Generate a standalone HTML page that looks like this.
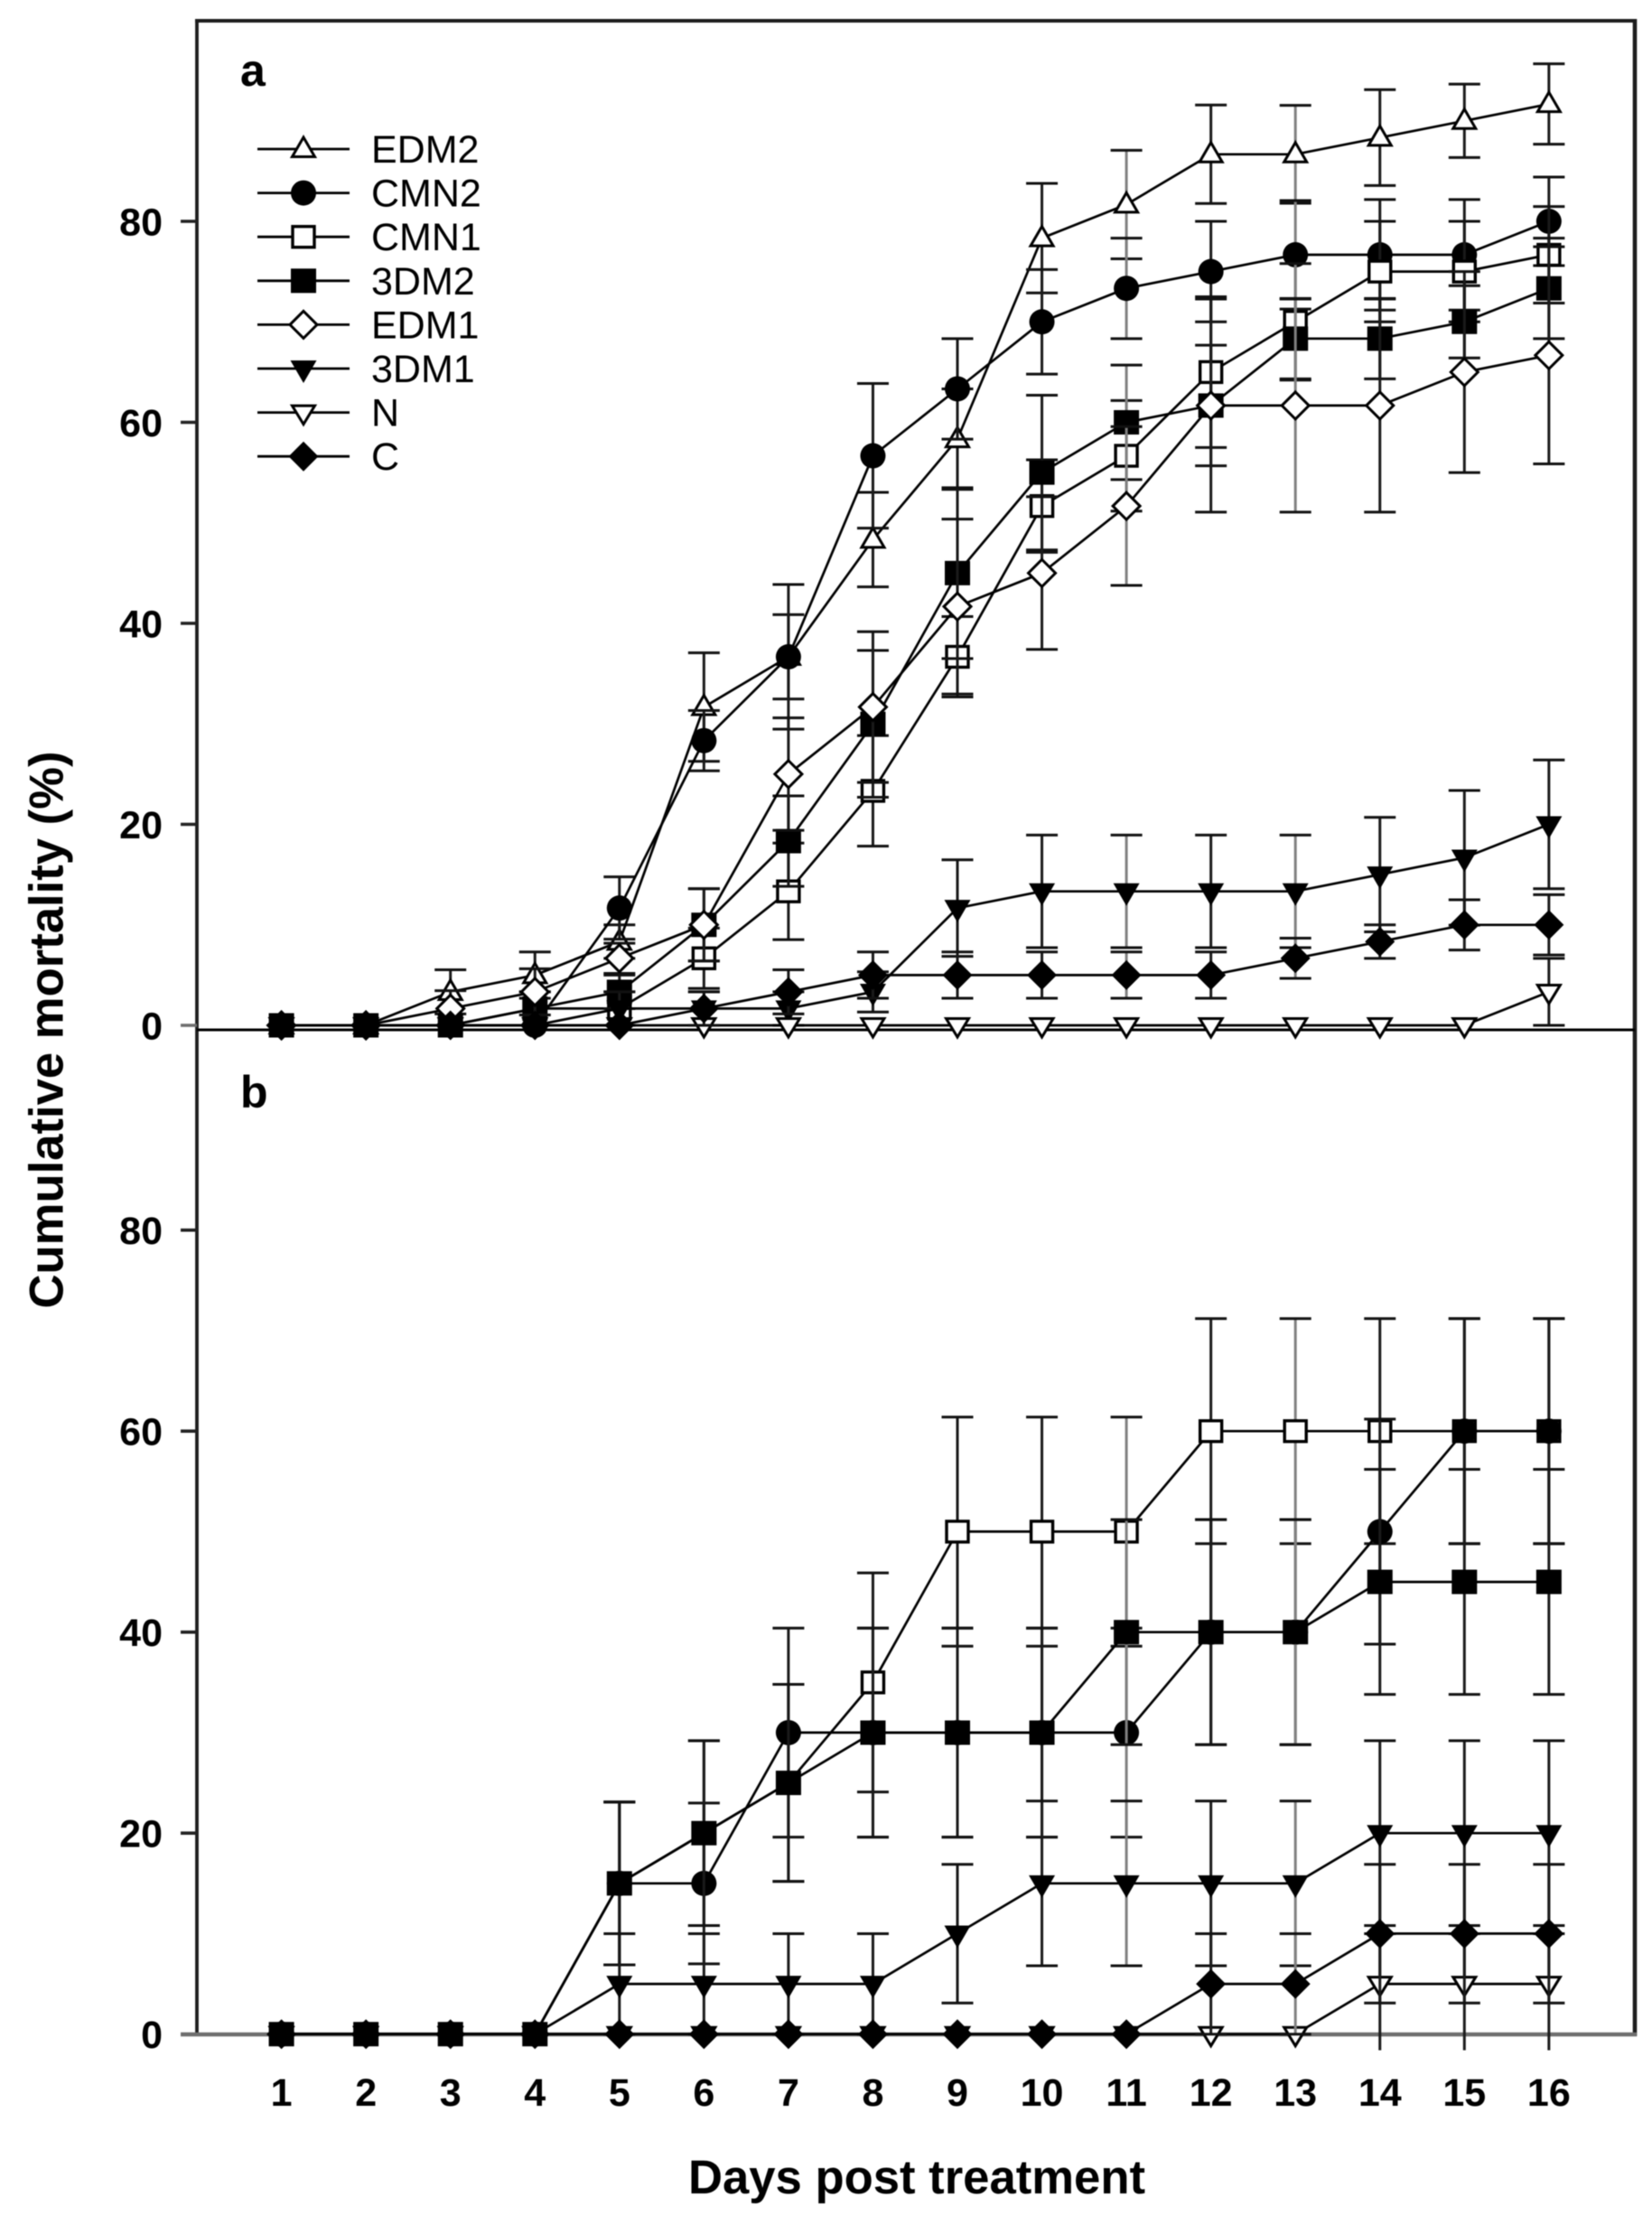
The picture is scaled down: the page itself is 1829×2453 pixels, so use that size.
<!DOCTYPE html>
<html lang="en">
<head>
<meta charset="utf-8">
<title>Cumulative mortality chart</title>
<style>
html,body{margin:0;padding:0;background:#fff;}
body{width:1829px;height:2453px;overflow:hidden;}
svg{display:block;filter:blur(0.55px);}
text{font-family:"Liberation Sans",sans-serif;fill:#000;}
.b{font-weight:bold;}
</style>
</head>
<body>
<svg id="chart" xmlns="http://www.w3.org/2000/svg" width="1829" height="2453" viewBox="0 0 1829 2453">
  <rect x="0" y="0" width="1829" height="2453" fill="#fff"/>
  <text class="b" font-size="52.6" textLength="617" lengthAdjust="spacingAndGlyphs" text-anchor="middle" transform="translate(69.5,1140) rotate(-90)">Cumulative mortality (%)</text>
  <text class="b" font-size="52.6" textLength="506" lengthAdjust="spacingAndGlyphs" x="762" y="2428">Days post treatment</text>
  <text class="b" font-size="50" x="266" y="95">a</text>
  <text class="b" font-size="50" x="266" y="1226">b</text>
</svg>
<script>
const days = [1,2,3,4,5,6,7,8,9,10,11,12,13,14,15,16];
const yTickValues = [0,20,40,60,80];

const edm2A    = [0,0,3.33,5,8.33,31.67,36.67,48.33,58.33,78.33,81.67,86.67,86.67,88.33,90,91.67];
const edm2AErr = [0,0,2.2,2.3,1.67,5.4,4.2,4.7,5,5.45,5.4,4.9,4.87,4.77,3.65,4];
const cmn2A    = [0,0,0,0,11.67,28.33,36.67,56.67,63.33,70,73.33,75,76.67,76.67,76.67,80];
const cmn2AErr = [0,0,0,0,3.1,3,7.2,7.2,5,5.2,5,5,5.4,5.5,5.5,4.4];
const cmn1A    = [0,0,0,1.67,1.67,6.67,13.33,23.33,36.67,51.67,56.67,65,70,75,75,76.67];
const cmn1AErr = [0,0,0,1.67,1.67,3,4.8,5.5,4,4.6,5.5,7.5,5.8,5,5,4.8];
const dm32A    = [0,0,0,1.67,3.33,10,18.33,30,45,55,60,61.67,68.33,68.33,70,73.33];
const dm32AErr = [0,0,0,1.67,1.67,3.6,4.5,7.3,8.5,7.7,5.7,6,4,4,3.6,5];
const edm1A    = [0,0,1.67,3.33,6.67,10,25,31.67,41.67,45,51.67,61.67,61.67,61.67,65,66.67];
const edm1AErr = [0,0,1.78,2.3,1.5,3.6,5.6,7.5,8.7,7.6,7.9,10.6,10.6,10.6,10,10.8];
const dm31A    = [0,0,0,0,1.67,1.67,1.67,3.33,11.67,13.33,13.33,13.33,13.33,15,16.67,20];
const dm31AErr = [0,0,0,0,1.67,1.67,1.67,2,4.8,5.6,5.6,5.6,5.6,5.7,6.7,6.4];
const nA       = [0,0,0,0,0,0,0,0,0,0,0,0,0,0,0,3.33];
const nAErr    = [0,0,0,0,0,0,0,0,0,0,0,0,0,0,0,3.33];
const cA       = [0,0,0,0,0,1.67,3.33,5,5,5,5,5,6.67,8.33,10,10];
const cAErr    = [0,0,0,0,0,1.67,2.2,2.3,2.3,2.3,2.3,2.3,2,1.67,2.5,3];

const cmn1B    = [0,0,0,0,15,20,25,35,50,50,50,60,60,60,60,60];
const cmn1BErr = [0,0,0,0,8.1,9.2,9.8,10.9,11.4,11.4,11.4,11.2,11.2,11.2,11.2,11.2];
const cmn2B    = [0,0,0,0,15,15,30,30,30,30,30,40,40,50,60,60];
const cmn2BErr = [0,0,0,0,8.1,8,10.4,10.4,10.4,10.4,10.4,11.2,11.2,11.2,11.2,11.2];
const dm32B    = [0,0,0,0,15,20,25,30,30,30,40,40,40,45,45,45];
const dm32BErr = [0,0,0,0,8.1,9.2,9.8,10.4,10.4,10.4,11.2,11.2,11.2,11.2,11.2,11.2];
const dm31B    = [0,0,0,0,5,5,5,5,10,15,15,15,15,20,20,20];
const dm31BErr = [0,0,0,0,5,5,5,5,6.9,8.2,8.2,8.2,8.2,9.2,9.2,9.2];
const nB       = [0,0,0,0,0,0,0,0,0,0,0,0,0,5,5,5];
const nBErr    = [0,0,0,0,0,0,0,0,0,0,0,0,0,5,5,5];
const nBErrLow = [0,0,0,0,0,0,0,0,0,0,0,0,0,6.6,6.6,6.6];
const cB       = [0,0,0,0,0,0,0,0,0,0,0,5,5,10,10,10];
const cBErr    = [0,0,0,0,0,0,0,0,0,0,0,5,5,6.9,6.9,6.9];

const legendNames = ["EDM2","CMN2","CMN1","3DM2","EDM1","3DM1","N","C"];
const legendKinds = ["triUpOpen","circle","squareOpen","square","diamondOpen","triDown","triDownOpen","diamond"];

const NS = "http://www.w3.org/2000/svg";
const svg = document.getElementById("chart");

const xOf = d => 311.6 + 93.55 * (d - 1);
const yOfA = v => 1135 - 11.125 * v;
const yOfB = v => 2251.7 - 11.125 * v;

function make(tag, attrs, parent) {
  const el = document.createElementNS(NS, tag);
  for (const k in attrs) el.setAttribute(k, attrs[k]);
  (parent || svg).appendChild(el);
  return el;
}

function drawMarker(kind, x, y, parent) {
  let el;
  if (kind === "circle") {
    el = make("circle", {cx:x, cy:y, r:14, fill:"#000"}, parent);
  } else if (kind === "square") {
    el = make("rect", {x:x-14, y:y-13.5, width:28, height:27, fill:"#000"}, parent);
  } else if (kind === "squareOpen") {
    el = make("rect", {x:x-12, y:y-11.5, width:24, height:23, fill:"#fff", stroke:"#000", "stroke-width":3.4}, parent);
  } else if (kind === "diamond") {
    el = make("path", {d:`M${x} ${y-16.5}L${x+16.5} ${y}L${x} ${y+16.5}L${x-16.5} ${y}Z`, fill:"#000"}, parent);
  } else if (kind === "diamondOpen") {
    el = make("path", {d:`M${x} ${y-15}L${x+15} ${y}L${x} ${y+15}L${x-15} ${y}Z`, fill:"#fff", stroke:"#000", "stroke-width":3}, parent);
  } else if (kind === "triDown") {
    el = make("path", {d:`M${x-14.5} ${y-9}L${x+14.5} ${y-9}L${x} ${y+16}Z`, fill:"#000"}, parent);
  } else if (kind === "triDownOpen") {
    el = make("path", {d:`M${x-12.5} ${y-7.5}L${x+12.5} ${y-7.5}L${x} ${y+13}Z`, fill:"#fff", stroke:"#000", "stroke-width":3}, parent);
  } else {
    el = make("path", {d:`M${x} ${y-13}L${x+12.5} ${y+8.5}L${x-12.5} ${y+8.5}Z`, fill:"#fff", stroke:"#000", "stroke-width":3}, parent);
  }
  
  
  return el;
}

function drawSeries(name, kind, values, errs, errsLow, yOf, softDays) {
  const g = make("g", {});
  
  
  days.forEach((d, i) => {
    const up = errs[i];
    const low = errsLow ? errsLow[i] : errs[i];
    if (up <= 0 && low <= 0) return;
    const x = xOf(d);
    const tone = softDays.includes(d) ? "#808080" : "#1a1a1a";
    const stem = make("line", {x1:x, x2:x, y1:yOf(values[i]+up), y2:yOf(values[i]-low), stroke:tone, "stroke-width":3}, g);
    
    
    const topCap = make("line", {x1:x-17.5, x2:x+17.5, y1:yOf(values[i]+up), y2:yOf(values[i]+up), stroke:"#111", "stroke-width":3}, g);
    
    
    if (values[i]-low >= 0) {
      const lowCap = make("line", {x1:x-17.5, x2:x+17.5, y1:yOf(values[i]-low), y2:yOf(values[i]-low), stroke:"#111", "stroke-width":3}, g);
      
      
    }
  });
  const pts = days.map((d, i) => xOf(d).toFixed(1) + "," + yOf(values[i]).toFixed(1)).join(" ");
  const line = make("polyline", {points:pts, fill:"none", stroke:"#000", "stroke-width":2.7}, g);
  
  
  days.forEach((d, i) => drawMarker(kind, xOf(d), yOf(values[i]), g));
}

/* frame and axes */
const frame = make("g", {});


make("line", {x1:216, x2:1812, y1:23, y2:23, stroke:"#1c1c1c", "stroke-width":4}, frame);
make("line", {x1:218, x2:218, y1:21, y2:2252, stroke:"#1c1c1c", "stroke-width":3.8}, frame);
make("line", {x1:1810, x2:1810, y1:21, y2:2254, stroke:"#1c1c1c", "stroke-width":4.6}, frame);
make("line", {x1:218, x2:1810, y1:1140, y2:1140, stroke:"#000", "stroke-width":3}, frame);
make("line", {x1:200, x2:1812, y1:2252, y2:2252, stroke:"#6e6e6e", "stroke-width":4.6}, frame);

/* y ticks for both panels */
[yOfA, yOfB].forEach((yOf, p) => {
  yTickValues.forEach(v => {
    const tick = make("line", {x1:200, x2:218, y1:yOf(v), y2:yOf(v), stroke: v === 0 ? "#6e6e6e" : "#222", "stroke-width":3.6});
    
    
    const label = make("text", {x:180, y:yOf(v)+15.5, "text-anchor":"end", "font-size":43, "class":"b"});
    label.textContent = v;
    
    
  });
});

/* x tick labels */
days.forEach(d => {
  const label = make("text", {x:xOf(d), y:2331, "text-anchor":"middle", "font-size":43, "class":"b"});
  label.textContent = d;
  
  
});

/* panel a series */
const softA = [11,13];
drawSeries("series-a-edm2","triUpOpen",edm2A,edm2AErr,null,yOfA,softA);
drawSeries("series-a-cmn2","circle",cmn2A,cmn2AErr,null,yOfA,softA);
drawSeries("series-a-cmn1","squareOpen",cmn1A,cmn1AErr,null,yOfA,softA);
drawSeries("series-a-3dm2","square",dm32A,dm32AErr,null,yOfA,softA);
drawSeries("series-a-edm1","diamondOpen",edm1A,edm1AErr,null,yOfA,softA);
drawSeries("series-a-3dm1","triDown",dm31A,dm31AErr,null,yOfA,softA);
drawSeries("series-a-n","triDownOpen",nA,nAErr,null,yOfA,softA);
drawSeries("series-a-c","diamond",cA,cAErr,null,yOfA,softA);

/* panel b series */
const softB = [11,13];
drawSeries("series-b-cmn1","squareOpen",cmn1B,cmn1BErr,null,yOfB,softB);
drawSeries("series-b-cmn2","circle",cmn2B,cmn2BErr,null,yOfB,softB);
drawSeries("series-b-3dm2","square",dm32B,dm32BErr,null,yOfB,softB);
drawSeries("series-b-3dm1","triDown",dm31B,dm31BErr,null,yOfB,softB);
drawSeries("series-b-n","triDownOpen",nB,nBErr,nBErrLow,yOfB,softB);
drawSeries("series-b-c","diamond",cB,cBErr,null,yOfB,softB);

/* legend */
const legend = make("g", {});


legendNames.forEach((name, i) => {
  const rowY = 165 + 48.6 * i;
  const row = make("g", {}, legend);
  
  
  const swatch = make("line", {x1:285, x2:387, y1:rowY, y2:rowY, stroke:"#000", "stroke-width":2.8}, row);
  
  
  drawMarker(legendKinds[i], 336, rowY, row);
  const label = make("text", {x:411, y:rowY+15, "font-size":43, fill:"#111"}, row);
  label.textContent = name;
  
  
});
</script>
</body>
</html>
